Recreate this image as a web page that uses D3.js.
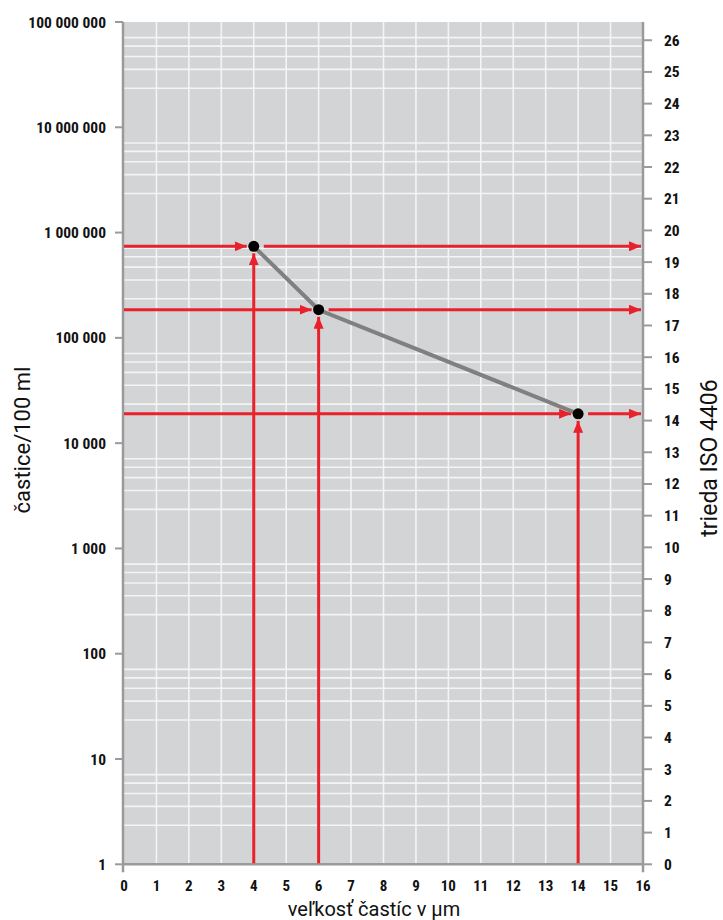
<!DOCTYPE html>
<html><head><meta charset="utf-8">
<script src="https://cdn.jsdelivr.net/npm/d3@7"></script>
<style>
body{margin:0;background:#fff;}
text{font-family:"Liberation Sans Narrow","Roboto Condensed","DejaVu Sans Condensed",sans-serif;}
text.title{font-family:Roboto,"Liberation Sans",sans-serif;}
</style></head>
<body><svg id="c" width="723" height="920"></svg>
<script>
// ---- data ----
const yTickValues = [1, 10, 100, 1000, 10000, 100000, 1000000, 10000000, 100000000];
const yTickLabels = ["1", "10", "100", "1 000", "10 000", "100 000", "1 000 000", "10 000 000", "100 000 000"];
const xTickValues = [0,1,2,3,4,5,6,7,8,9,10,11,12,13,14,15,16];
const isoClasses = [0,1,2,3,4,5,6,7,8,9,10,11,12,13,14,15,16,17,18,19,20,21,22,23,24,25,26];
const minorMultipliers = [7.1, 5.9, 4.7, 3.55, 2.35];
const sizes = [4, 6, 14];             // particle size in µm
const counts = [740000, 185000, 19000]; // particles / 100 ml

(function(){
const svg = d3.select("#c");
const pLeft = 124, pRight = 643, pTop = 22, pBottom = 864.3;
const x = d3.scaleLinear().domain([0,16]).range([pLeft,pRight]);
const y = d3.scaleLog().domain([1,1e8]).range([pBottom,pTop]);
const yIso = c => y(Math.pow(2,c));

svg.append("rect").attr("x",pLeft).attr("y",pTop).attr("width",pRight-pLeft).attr("height",pBottom-pTop).attr("fill","#d3d4d6");

const minor = [];
for (let d=0; d<8; d++) minorMultipliers.forEach(m => minor.push(m*Math.pow(10,d)));
svg.append("g").selectAll("line").data(minor).join("line")
  .attr("x1",pLeft).attr("x2",pRight).attr("y1",d=>y(d)).attr("y2",d=>y(d))
  .attr("stroke","#f4f4f4").attr("stroke-width",1.6);
svg.append("g").selectAll("line").data(xTickValues.filter(v=>v>0&&v<16)).join("line")
  .attr("x1",d=>x(d)).attr("x2",d=>x(d)).attr("y1",pTop).attr("y2",pBottom)
  .attr("stroke","#f4f4f4").attr("stroke-width",1.6);

const axisColor = "#9a9a9c";
svg.append("line").attr("x1",pLeft-1).attr("x2",pLeft-1).attr("y1",pTop).attr("y2",pBottom+8).attr("stroke",axisColor).attr("stroke-width",2.5);
svg.append("line").attr("x1",pRight).attr("x2",pRight).attr("y1",pTop).attr("y2",pBottom+8).attr("stroke",axisColor).attr("stroke-width",2.5);
svg.append("line").attr("x1",pLeft-1).attr("x2",pRight+1).attr("y1",pBottom).attr("y2",pBottom).attr("stroke",axisColor).attr("stroke-width",2.5);

const gl = svg.append("g");
gl.selectAll("line").data(yTickValues).join("line")
  .attr("x1",pLeft-9).attr("x2",pLeft-1).attr("y1",d=>y(d)).attr("y2",d=>y(d)).attr("stroke",axisColor).attr("stroke-width",2);
gl.selectAll("text").data(yTickValues).join("text")
  .attr("x",106).attr("y",d=>y(d)+5.5).attr("text-anchor","end")
  .attr("font-size",15.5).attr("font-weight","bold").attr("fill","#111")
  .text((d,i)=>yTickLabels[i]);

const gr = svg.append("g");
gr.selectAll("line").data(isoClasses).join("line")
  .attr("x1",pRight).attr("x2",pRight+9).attr("y1",d=>yIso(d)).attr("y2",d=>yIso(d)).attr("stroke",axisColor).attr("stroke-width",2);
gr.selectAll("text").data(isoClasses).join("text")
  .attr("x",664).attr("y",d=>yIso(d)+5.5).attr("text-anchor","start")
  .attr("font-size",15.5).attr("font-weight","bold").attr("fill","#111")
  .text(d=>d);

svg.append("g").selectAll("text").data(xTickValues).join("text")
  .attr("x",d=>x(d)).attr("y",891).attr("text-anchor","middle")
  .attr("font-size",15).attr("font-weight","bold").attr("fill","#111")
  .text(d=>d);

svg.append("text").attr("class","title").attr("x",374).attr("y",916).attr("text-anchor","middle").attr("font-size",20).attr("fill","#111").text("veľkosť častíc v µm");
svg.append("text").attr("class","title").attr("transform","translate(30,440) rotate(-90)").attr("text-anchor","middle").attr("font-size",22).attr("fill","#111").text("častice/100 ml");
svg.append("text").attr("class","title").attr("transform","translate(717,458) rotate(-90)").attr("text-anchor","middle").attr("font-size",23).attr("fill","#111").text("trieda ISO 4406");

const red = "#e8212b";
const defs = svg.append("defs");
defs.append("marker").attr("id","ah").attr("viewBox","0 0 12 10").attr("refX",12).attr("refY",5)
  .attr("markerWidth",12).attr("markerHeight",10).attr("markerUnits","userSpaceOnUse").attr("orient","auto")
  .append("path").attr("d","M0,0 L12,5 L0,10 Z").attr("fill",red);
const ga = svg.append("g");
const pts = sizes.map((s,i)=>({s, c:counts[i]}));
pts.forEach(p=>{
  const px = x(p.s), py = y(p.c);
  ga.append("line").attr("x1",pLeft).attr("x2",px-7).attr("y1",py).attr("y2",py).attr("stroke",red).attr("stroke-width",3).attr("marker-end","url(#ah)");
  ga.append("line").attr("x1",px+10).attr("x2",pRight-2).attr("y1",py).attr("y2",py).attr("stroke",red).attr("stroke-width",3).attr("marker-end","url(#ah)");
  ga.append("line").attr("x1",px).attr("x2",px).attr("y1",pBottom-1).attr("y2",py+7).attr("stroke",red).attr("stroke-width",3).attr("marker-end","url(#ah)");
});

svg.append("path").datum(pts)
  .attr("d",d3.line().x(d=>x(d.s)).y(d=>y(d.c)))
  .attr("fill","none").attr("stroke","#808080").attr("stroke-width",4);
svg.append("g").selectAll("circle").data(pts).join("circle")
  .attr("cx",d=>x(d.s)).attr("cy",d=>y(d.c)).attr("r",5.5).attr("fill","#000");
})();
</script></body></html>
